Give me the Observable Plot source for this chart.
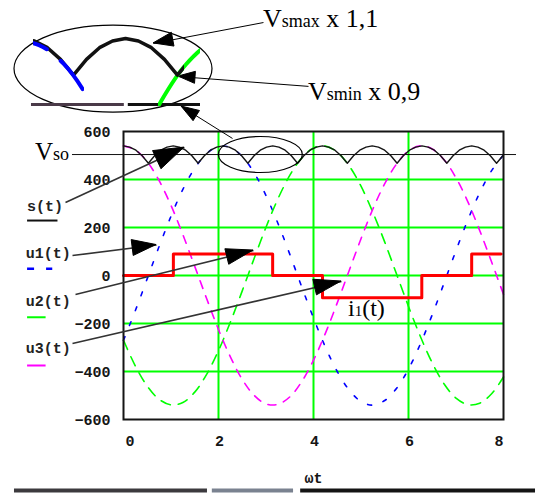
<!DOCTYPE html>
<html><head><meta charset="utf-8">
<script src="https://cdn.jsdelivr.net/npm/d3@7"></script>
<script src="https://cdn.jsdelivr.net/npm/@observablehq/plot@0.6"></script>
<style>
html,body{margin:0;padding:0;background:#fff;}
#wrap{position:relative;width:541px;height:493px;overflow:hidden;background:#fff;}
#wrap svg{position:absolute;left:0;top:0;}
</style></head><body><div id="wrap"></div>
<script>
// ---- data ----
const t  = [0,0.25,0.5,0.75,1,1.25,1.5,1.75,2,2.25,2.5,2.75,3,3.25,3.5,3.75,4,4.25,4.5,4.75,5,5.25,5.5,5.75,6,6.25,6.5,6.75,7,7.25,7.5,7.75,8];
const u1 = [-270,-146,-13,121,247,359,447,508,538,533,496,428,333,218,89,-46,-177,-298,-400,-477,-525,-540,-521,-470,-390,-285,-163,-31,104,232,345,437,502];
const u2 = [-270,-377,-461,-516,-539,-529,-486,-412,-313,-194,-64,71,201,319,417,489,531,539,514,457,372,263,139,5,-129,-254,-364,-452,-511,-538,-532,-493,-423];
const u3 = [540,523,474,395,292,170,38,-96,-225,-339,-433,-499,-535,-537,-506,-443,-353,-241,-114,20,153,277,383,465,519,540,527,482,407,307,187,56,-79];
const sT = [0,0.131,0.262,0.393,0.524,0.654,0.785,0.916,1.047,1.178,1.309,1.44,1.571,1.702,1.833,1.963,2.094,2.225,2.356,2.487,2.618,2.749,2.88,3.011,3.142,3.272,3.403,3.534,3.665,3.796,3.927,4.058,4.189,4.32,4.451,4.581,4.712,4.843,4.974,5.105,5.236,5.367,5.498,5.629,5.76,5.89,6.021,6.152,6.283,6.414,6.545,6.676,6.807,6.938,7.069,7.199,7.33,7.461,7.592,7.723,7.854,7.985,8];
const sV = [540,535,522,499,468,499,522,535, 540,535,522,499,468,499,522,535, 540,535,522,499,468,499,522,535, 540,535,522,499,468,499,522,535, 540,535,522,499,468,499,522,535, 540,535,522,499,468,499,522,535, 540,535,522,499,468,499,522,535, 540,535,522,499,468,499,502];
const iT = [0,1.05,3.14,4.19,6.28,7.33,7.95];
const iV = [0,90,0,-93,0,90,90];
const xTicks = [0,2,4,6,8];
const yTicks = [-600,-400,-200,0,200,400,600];
const xGrid = [2,4,6];
const yGrid = [-400,-200,0,200,400];
const vso = 504;

// ---- annotations (data coordinates) ----
const legendText = [
  {name:"s(t)",  t:-2.03, v:269},
  {name:"u1(t)", t:-2.06, v:75},
  {name:"u2(t)", t:-2.06, v:-125},
  {name:"u3(t)", t:-2.06, v:-323}
];
const legendKeys = [
  {t1:-2.03, t2:-1.39, v:229,  c:"#111"},
  {t1:-2.03, t2:-1.50, v:28,   c:"#0000ff"},
  {t1:-2.03, t2:-1.64, v:-174, c:"#00ff00"},
  {t1:-2.03, t2:-1.64, v:-375, c:"#ff00ff"}
];
const chartArrows = [
  {x1:-1.221, y1:304, x2:1.284, y2:533, len:30, hw:10},
  {x1:-1.074, y1:83,  x2:0.695, y2:127, len:24, hw:8},
  {x1:-1.011, y1:-79, x2:2.737, y2:104, len:27, hw:8},
  {x1:-1.074, y1:-283,x2:4.589, y2:-25, len:27, hw:8}
];
const topArrows = [
  {x1:2.947, y1:1054, x2:0.632, y2:967, len:20, hw:7},
  {x1:3.895, y1:788,  x2:1.158, y2:829, len:17, hw:6},
  {x1:2.295, y1:571,  x2:1.221, y2:704, len:18, hw:6}
];
const labels = [
  {t:2.947,  v:1033, parts:[["V",26],["smax",18],[" x 1,1",26]]},
  {t:3.895,  v:729,  parts:[["V",26],["smin",18],[" x 0,9",26]]},
  {t:-1.853, v:479,  parts:[["V",25],["so",18]]},
  {t:4.737,  v:-171, parts:[["i",24],["1",15],["(t)",24]]}
];
const vsoRule = [{v:vso, a:-1.074, b:8.274}];
const bottomStrip = [
  {v:-896, a:-2.295, b:1.768, c:"#3c3a3e"},
  {v:-896, a:1.87,  b:3.58,  c:"#7a8290"},
  {v:-896, a:3.73,  b:8.674, c:"#141414"}
];

const mono = "'Liberation Mono','DejaVu Sans Mono',monospace";
const serif = "'Liberation Serif','Times New Roman',serif";
const GREEN = "#00ff00";

const mainData = t.map((x,i)=>({t:x,u1:u1[i],u2:u2[i],u3:u3[i]}));
const sData = sT.map((x,i)=>({t:x,v:sV[i]}));
const iData = iT.map((x,i)=>({t:x,v:iV[i]}));
const fmt = d => d < 0 ? "\u2212" + (-d) : String(d);

const tickStyle = {fontWeight:"bold", fontSize:15, fill:"#151515"};

const chart = Plot.plot({
  width:541, height:493,
  marginLeft:123, marginRight:38, marginTop:131, marginBottom:74,
  x:{domain:[0,8], axis:null},
  y:{domain:[-600,600], axis:null},
  style:{background:"white", fontFamily:mono, fontSize:"15px", color:"#151515", overflow:"visible"},
  marks:[
    Plot.ruleX(xGrid,{stroke:GREEN, strokeWidth:2}),
    Plot.ruleY(yGrid,{stroke:GREEN, strokeWidth:2}),
    Plot.line(mainData,{x:"t",y:"u1",stroke:"#0000ff",strokeWidth:1.6,strokeDasharray:"4,12",curve:"catmull-rom"}),
    Plot.line(mainData,{x:"t",y:"u2",stroke:GREEN,strokeWidth:1.6,strokeDasharray:"10,8",curve:"catmull-rom"}),
    Plot.line(mainData,{x:"t",y:"u3",stroke:"#ff00ff",strokeWidth:1.6,strokeDasharray:"8,8",curve:"catmull-rom"}),
    Plot.line(sData,{x:"t",y:"v",stroke:"#151515",strokeWidth:1.4}),
    Plot.line(iData,{x:"t",y:"v",stroke:"#ff0000",strokeWidth:3,curve:"step-after"}),
    Plot.frame({stroke:"#151515",strokeWidth:2}),
    // tick labels
    Plot.text(yTicks,{y:d=>d, text:fmt, frameAnchor:"left", dx:-13, textAnchor:"end", dy:1, ...tickStyle}),
    Plot.text([xTicks[0]],{x:d=>d, text:fmt, frameAnchor:"bottom", dy:22, lineAnchor:"middle", textAnchor:"start", dx:2, ...tickStyle}),
    Plot.text(xTicks.slice(1,-1),{x:d=>d, text:fmt, frameAnchor:"bottom", dy:22, lineAnchor:"middle", dx:1, ...tickStyle}),
    Plot.text([xTicks[xTicks.length-1]],{x:d=>d, text:fmt, frameAnchor:"bottom", dy:22, lineAnchor:"middle", textAnchor:"end", ...tickStyle}),
    Plot.text(["\u03c9t"],{text:d=>d, frameAnchor:"bottom", dy:59, lineAnchor:"middle", ...tickStyle}),
    // legend
    Plot.text(legendText,{x:"t",y:"v",text:"name",textAnchor:"start",lineAnchor:"bottom",fontWeight:"bold",fontSize:15,fill:"#222"}),
    Plot.link(legendKeys.filter((d,i)=>i!==1),{x1:"t1",x2:"t2",y1:"v",y2:"v",stroke:"c",strokeWidth:2}),
    Plot.link([legendKeys[1]],{x1:"t1",x2:"t2",y1:"v",y2:"v",stroke:"c",strokeWidth:2.5,strokeDasharray:"7,12"}),
    // Vso rule
    Plot.ruleY(vsoRule,{y:"v",x1:"a",x2:"b",stroke:"#111",strokeWidth:1}),
    // arrow shafts
    Plot.link(chartArrows,{x1:"x1",y1:"y1",x2:"x2",y2:"y2",stroke:"#333",strokeWidth:1.6}),
    Plot.link(topArrows,{x1:"x1",y1:"y1",x2:"x2",y2:"y2",stroke:"#000",strokeWidth:1}),
    // bottom strip
    Plot.ruleY(bottomStrip,{y:"v",x1:"a",x2:"b",stroke:"c",strokeWidth:4})
  ]
});

const wrap = document.getElementById("wrap");
wrap.appendChild(chart);

const SX = chart.scale("x"), SY = chart.scale("y");
const xs = d3.scaleLinear(SX.domain, SX.range);
const ys = d3.scaleLinear(SY.domain, SY.range);
const svg = d3.select(chart);
const ann = svg.append("g");

function head(a, fill){
  const x0=xs(a.x1), y0=ys(a.y1), x1=xs(a.x2), y1=ys(a.y2);
  const L=Math.hypot(x1-x0,y1-y0), ux=(x1-x0)/L, uy=(y1-y0)/L;
  const bx=x1-ux*a.len, by=y1-uy*a.len, nx=-uy, ny=ux;
  ann.append("polygon")
    .attr("points",[[x1,y1],[bx+nx*a.hw,by+ny*a.hw],[bx-nx*a.hw,by-ny*a.hw]].map(p=>p.join(",")).join(" "))
    .attr("fill",fill).attr("stroke",fill).attr("stroke-width",1);
}
chartArrows.forEach(a=>head(a,"#000"));
topArrows.forEach(a=>head(a,"#000"));

// ellipses
const ellipses = [
  {t:2.891, v:502, rx:42, ry:18},
  {t:-0.2105, v:860, rx:99, ry:43.5}
];
ellipses.forEach(e=>{
  ann.append("ellipse").attr("cx",xs(e.t)).attr("cy",ys(e.v)).attr("rx",e.rx).attr("ry",e.ry)
    .attr("fill","none").attr("stroke","#000").attr("stroke-width",1.2);
});

// rich labels
labels.forEach(l=>{
  const el = ann.append("text").attr("x",xs(l.t)).attr("y",ys(l.v))
    .attr("text-anchor","start")
    .attr("font-family",serif).attr("fill","#000").style("white-space","pre");
  l.parts.forEach(([s,size])=>el.append("tspan").attr("font-size",size).text(s));
});

// ---- magnified inset (2.09x view of the small ellipse) ----
const IX0 = 1.883, IKX = 99.3, IY0 = 614.5, IKY = 0.51;
function insetPlot(a, b, c, d, marks){
  const p = Plot.plot({
    width:b-a, height:d-c, margin:0,
    x:{domain:[IX0 + a/IKX, IX0 + b/IKX], axis:null},
    y:{domain:[IY0 - d/IKY, IY0 - c/IKY], axis:null},
    style:{background:"transparent", overflow:"visible"},
    marks
  });
  p.style.left = a + "px";
  p.style.top = c + "px";
  wrap.appendChild(p);
}
insetPlot(0, 220, 0, 120, [
  Plot.ruleY([{v:410.6,a:2.195,b:3.13}],{y:"v",x1:"a",x2:"b",stroke:"#4a3a48",strokeWidth:3}),
  Plot.ruleY([{v:410.6,a:3.17,b:3.897}],{y:"v",x1:"a",x2:"b",stroke:"#111",strokeWidth:3})
]);
insetPlot(158, 200, 40, 106, [
  Plot.line(mainData,{x:"t",y:"u2",stroke:GREEN,strokeWidth:4,curve:"catmull-rom",clip:"frame"})
]);
insetPlot(33, 184, 20, 110, [
  Plot.line(sData,{x:"t",y:"v",stroke:"#111",strokeWidth:3.5,clip:"frame"})
]);
insetPlot(33, 84, 20, 110, [
  Plot.line(mainData,{x:"t",y:"u1",stroke:"#0000ff",strokeWidth:4,strokeDasharray:"36,18",strokeDashoffset:23,curve:"catmull-rom",dx:2,dy:3,clip:"frame"})
]);
</script>
</body></html>
